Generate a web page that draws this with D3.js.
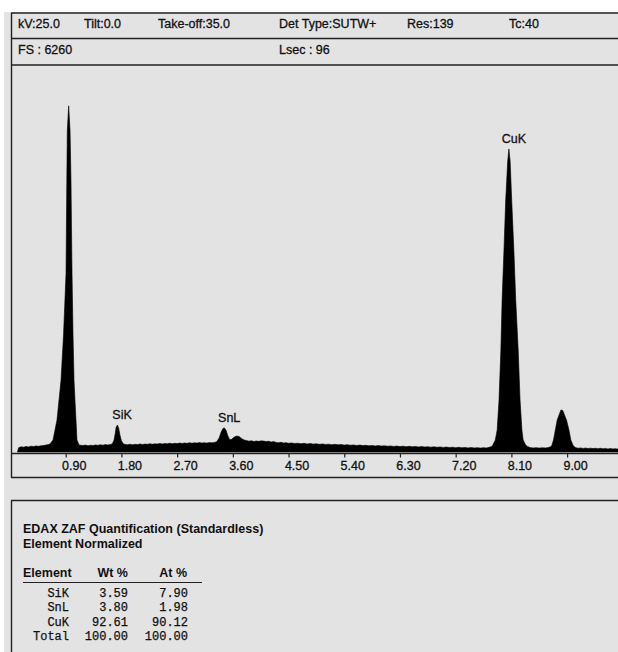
<!DOCTYPE html>
<html>
<head>
<meta charset="utf-8">
<script src="https://cdn.jsdelivr.net/npm/d3@7"></script>
<style>
html,body{margin:0;padding:0;background:#fff;}
svg{display:block;}
</style>
</head>
<body>
<svg id="chart" width="618" height="652"></svg>
<script>
// ---- header info ----
const headerRow1 = ["kV:25.0", "Tilt:0.0", "Take-off:35.0", "Det Type:SUTW+", "Res:139", "Tc:40"];
const headerRow1X = [18, 84, 158, 279, 407, 509];
const headerRow2 = ["FS : 6260", "Lsec : 96"];
const headerRow2X = [18, 279];
const fullScale = 6260;

// ---- spectrum (energy keV, counts) ----
const energies = [
  0.12,0.14,0.18,0.22,0.26,0.30,0.34,0.38,0.42,0.46,0.50,0.54,0.58,
  0.62,0.646,0.695,0.759,0.824,0.865,0.905,0.918,0.926,0.948,0.97,0.985,1.002,1.018,1.034,1.066,1.082,1.115,
  1.14,1.18,1.22,1.26,1.30,1.34,1.38,1.42,1.46,1.50,1.54,1.58,1.62,
  1.65,1.68,1.70,1.715,1.735,1.755,1.775,1.80,1.83,1.86,
  1.90,1.94,1.98,2.02,2.06,2.10,2.14,2.18,2.22,2.26,2.30,2.34,2.38,2.42,2.46,2.50,2.54,2.58,2.62,2.66,2.70,2.74,2.78,2.82,2.86,2.90,2.94,2.98,3.02,3.06,3.10,3.14,3.18,3.22,3.26,3.30,
  3.34,3.38,3.41,3.44,3.465,3.49,3.52,3.55,3.58,3.62,3.66,3.70,3.74,3.78,3.82,
  3.86,3.90,3.94,3.98,4.02,4.06,4.10,4.14,4.18,4.22,4.26,4.30,4.34,4.38,4.42,4.46,4.50,4.55,4.60,4.65,4.70,4.75,4.80,4.85,4.90,4.95,5.00,5.05,5.10,5.15,5.20,5.25,5.30,5.35,5.40,5.45,5.50,5.55,5.60,5.65,5.70,5.75,5.80,5.85,5.90,5.95,6.00,6.05,6.10,6.15,6.20,6.25,6.30,6.35,6.40,6.45,6.50,6.55,6.60,6.65,6.70,6.75,6.80,6.85,6.90,6.95,7.00,7.05,7.10,7.15,7.20,7.25,7.30,7.35,7.40,7.45,7.50,7.55,7.60,7.65,7.70,7.74,
  7.78,7.80,7.84,7.87,7.90,7.93,7.95,7.98,8.008,8.04,8.06,8.08,8.105,8.14,8.17,8.21,8.24,8.27,8.29,8.33,8.36,
  8.40,8.45,8.50,8.55,8.60,8.65,8.70,8.73,
  8.75,8.78,8.81,8.84,8.90,8.93,8.99,9.03,9.06,9.10,9.14,
  9.18,9.22,9.26,9.30,9.34,9.38,9.42,9.46,9.50,9.54,9.58,9.62,9.66,9.70,9.74,9.78,9.82,9.90,10.0
];
const counts = [
  0,70,85,78,90,82,95,88,98,92,100,105,112,
  120,130,194,516,1161,1900,2887,4400,5200,5600,5200,4400,2887,1900,1161,516,194,115,
  110,105,112,100,110,104,115,108,118,110,120,114,122,
  130,190,300,400,437,390,280,180,135,122,
  118,126,116,124,120,130,122,128,124,134,126,132,128,138,130,136,132,142,134,140,136,145,138,146,140,150,142,148,144,152,146,150,144,152,148,155,
  165,230,320,380,390,350,260,200,205,240,258,252,220,195,185,
  175,182,170,178,172,180,176,170,174,162,168,155,150,156,146,150,142,146,138,142,134,140,130,136,128,132,124,130,122,126,118,124,116,120,112,118,110,114,106,112,104,108,100,106,98,104,96,100,94,98,90,96,88,94,86,92,84,90,82,88,80,86,78,84,76,82,74,80,72,78,70,76,68,74,66,72,66,70,64,70,66,75,
  90,113,194,356,841,1650,2459,3268,4077,4700,4902,4700,4077,3268,2459,1650,841,356,194,113,90,
  72,66,70,64,68,66,72,85,
  97,194,356,518,680,670,518,356,194,100,70,
  62,66,58,64,56,62,55,60,54,60,52,58,50,56,50,54,48,52,48
];

// ---- axis ticks ----
const tickValues = [0.90, 1.80, 2.70, 3.60, 4.50, 5.40, 6.30, 7.20, 8.10, 9.00];

// ---- peak labels ----
const peakNames = ["SiK", "SnL", "CuK"];
const peakEnergies = [1.73, 3.46, 8.06];
const peakCounts = [437, 390, 4902];

// ---- quantification table ----
const tableTitle = ["EDAX ZAF Quantification (Standardless)", "Element Normalized"];
const tableHeader = ["Element", "Wt %", "At %"];
const elements = ["SiK", "SnL", "CuK", "Total"];
const wtPct = ["3.59", "3.80", "92.61", "100.00"];
const atPct = ["7.90", "1.98", "90.12", "100.00"];

const svg = d3.select("#chart");
const lineCol = "#222";
const txtCol = "#111";
const sans = "'Liberation Sans', Arial, sans-serif";
const mono = "'Liberation Mono', 'Courier New', monospace";

// page background (scanned gray)
svg.append("rect").attr("x", 4).attr("y", 12).attr("width", 614).attr("height", 640).attr("fill", "#e3e3e3");

// frame lines
const H = (y, x1, x2) => svg.append("line").attr("x1", x1).attr("x2", x2).attr("y1", y).attr("y2", y)
  .attr("stroke", lineCol).attr("stroke-width", 1.4);
const V = (x, y1, y2) => svg.append("line").attr("x1", x).attr("x2", x).attr("y1", y1).attr("y2", y2)
  .attr("stroke", lineCol).attr("stroke-width", 1.4);
H(13, 11, 618); H(38.5, 11, 618); H(65, 11, 618); H(477.5, 11, 618);
V(11.5, 13, 477.5);
H(500.5, 11, 618); V(11.5, 500.5, 652);

// header text
const hdr = svg.append("g").attr("font-family", sans).attr("font-size", 12.5).attr("fill", txtCol)
  .attr("stroke", txtCol).attr("stroke-width", 0.3);
headerRow1.forEach((t, i) => hdr.append("text").attr("x", headerRow1X[i]).attr("y", 28).text(t));
headerRow2.forEach((t, i) => hdr.append("text").attr("x", headerRow2X[i]).attr("y", 54).text(t));

// scales
const x = d3.scaleLinear().domain([0, 10]).range([10, 629]);
const y = d3.scaleLinear().domain([0, fullScale]).range([452, 65]);

const data = energies.map((e, i) => [e, counts[i]]);
const area = d3.area().x(d => x(d[0])).y0(y(0)).y1(d => y(d[1])).curve(d3.curveLinear);
svg.append("path").datum(data).attr("d", area).attr("fill", "#000").attr("stroke", "#000").attr("stroke-width", 0.6);

// axis
const axisG = svg.append("g").attr("transform", "translate(0,453.5)");
axisG.call(d3.axisBottom(x).tickValues(tickValues).tickSize(4).tickFormat(d3.format(".2f")));
axisG.select(".domain").remove();
axisG.append("line").attr("x1", 11).attr("x2", 618).attr("stroke", lineCol).attr("stroke-width", 1.4);
axisG.selectAll(".tick line").attr("stroke", lineCol).attr("stroke-width", 1.2);
axisG.selectAll(".tick text").attr("font-family", sans).attr("font-size", 12.5).attr("fill", txtCol)
  .attr("stroke", txtCol).attr("stroke-width", 0.3)
  .attr("dx", 8).attr("y", 8).attr("dy", "0.71em");

// peak labels
const lbl = svg.append("g").attr("font-family", sans).attr("font-size", 12.5).attr("fill", txtCol)
  .attr("stroke", txtCol).attr("stroke-width", 0.3).attr("text-anchor", "middle");
peakNames.forEach((n, i) => lbl.append("text").attr("x", x(peakEnergies[i]) + 5).attr("y", y(peakCounts[i]) - 6).text(n));

// table
const tb = svg.append("g").attr("fill", txtCol);
tableTitle.forEach((t, i) => tb.append("text").attr("x", 23).attr("y", 533 + i * 15)
  .attr("font-family", sans).attr("font-size", 12.5).attr("font-weight", "bold").text(t));
const colX = [23, 128, 187];
const colAnchor = ["start", "end", "end"];
tableHeader.forEach((t, i) => tb.append("text").attr("x", colX[i]).attr("y", 576.5)
  .attr("text-anchor", colAnchor[i]).attr("font-family", sans).attr("font-size", 12.5).attr("font-weight", "bold").text(t));
tb.append("line").attr("x1", 23).attr("x2", 202).attr("y1", 582.5).attr("y2", 582.5).attr("stroke", lineCol).attr("stroke-width", 1.2);
const rows = tb.append("g").attr("font-family", mono).attr("font-size", 12).attr("text-anchor", "end")
  .attr("stroke", txtCol).attr("stroke-width", 0.25);
elements.forEach((e, i) => {
  const yy = 597 + i * 14.3;
  rows.append("text").attr("x", 69).attr("y", yy).text(e);
  rows.append("text").attr("x", 128).attr("y", yy).text(wtPct[i]);
  rows.append("text").attr("x", 188).attr("y", yy).text(atPct[i]);
});
</script>
</body>
</html>
